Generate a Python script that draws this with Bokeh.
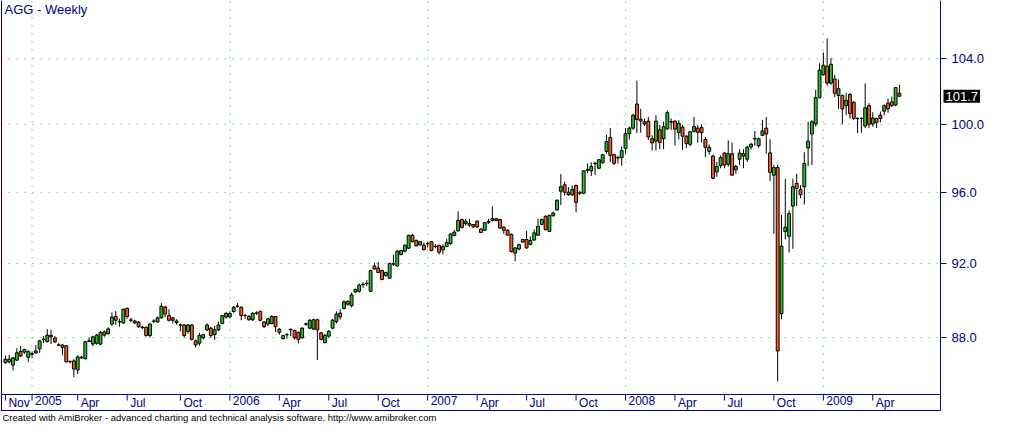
import numpy as np
import pandas as pd
from bokeh.plotting import figure
from bokeh.models import Range1d, FixedTicker, PrintfTickFormatter, LinearAxis, Label, ColumnDataSource
from bokeh.core.properties import value
from bokeh.embed import file_html
from bokeh.resources import INLINE

# ---------------- data (weekly AGG bars) ----------------
first_week = "2004-11-19"

opens = [86.70, 86.87, 86.57, 86.82, 87.27, 87.24, 86.97, 87.13, 87.20, 87.41,
         87.90, 87.79, 88.12, 87.98, 87.62, 87.61, 87.57, 86.73, 86.78, 86.31,
         86.94, 86.90, 87.80, 87.66, 87.70, 87.66, 88.30, 88.21, 88.72, 89.12,
         88.83, 88.78, 89.56, 88.92, 88.78, 88.82, 88.55, 88.55, 88.11, 88.88,
         88.83, 89.05, 89.62, 89.17, 89.05, 88.88, 88.66, 88.67, 88.33, 88.67,
         87.83, 87.71, 87.99, 88.41, 88.50, 88.16, 88.41, 88.75, 89.09, 89.10,
         89.39, 89.66, 89.62, 89.17, 89.12, 88.95, 89.30, 89.39, 88.83, 88.72,
         88.75, 89.12, 88.45, 87.95, 88.16, 88.41, 88.38, 88.28, 87.99, 88.71,
         88.50, 88.45, 88.95, 88.25, 87.74, 88.08, 88.50, 88.85, 89.30, 89.55,
         89.93, 89.70, 90.44, 90.48, 90.84, 90.90, 90.48, 91.86, 91.74, 91.61,
         91.33, 91.19, 91.96, 91.86, 92.50, 92.68, 92.84, 93.56, 93.28, 93.03,
         93.01, 93.09, 93.21, 92.95, 93.00, 92.75, 92.94, 93.10, 93.56, 93.81,
         94.45, 94.22, 94.22, 94.17, 94.35, 93.92, 93.85, 94.27, 94.40, 94.50,
         94.45, 94.02, 93.85, 93.62, 92.57, 92.80, 93.19, 93.33, 93.06, 93.30,
         93.57, 94.18, 94.64, 93.78, 94.67, 95.00, 96.07, 96.44, 96.01, 95.87,
         96.40, 95.98, 95.95, 97.28, 97.25, 97.66, 97.40, 97.72, 98.39, 99.21,
         98.19, 98.00, 98.02, 98.57, 99.44, 99.77, 101.22, 100.30, 100.15, 100.19,
         99.14, 99.00, 99.67, 99.14, 99.73, 100.13, 100.19, 99.52, 99.83, 99.29,
         98.81, 99.58, 99.77, 99.80, 99.10, 98.39, 98.11, 97.18, 97.55, 98.29,
         97.63, 98.25, 97.31, 97.93, 98.25, 97.93, 98.65, 99.13, 98.72, 99.34,
         99.77, 98.30, 97.00, 97.44, 89.28, 93.77, 93.51, 95.22, 96.52, 96.16,
         96.33, 98.59, 99.42, 100.02, 101.60, 103.02, 103.54, 102.50, 102.75, 101.74,
         101.74, 101.12, 101.80, 101.33, 100.36, 100.34, 99.90, 101.12, 100.02, 100.35,
         100.54, 100.79, 101.27, 101.35, 101.16, 101.88]

highs = [87.07, 87.10, 86.99, 87.44, 87.57, 87.41, 87.34, 87.27, 87.61, 87.88,
         88.08, 88.45, 88.41, 88.08, 87.71, 87.66, 87.61, 86.82, 86.87, 87.07,
         87.05, 87.82, 88.00, 88.10, 88.20, 88.35, 88.38, 88.55, 89.34, 89.42,
         89.00, 89.55, 89.60, 89.06, 88.95, 88.88, 88.62, 88.58, 88.75, 88.98,
         89.12, 89.84, 89.70, 89.51, 89.10, 88.98, 88.75, 88.72, 88.72, 88.72,
         87.90, 88.25, 88.20, 88.75, 88.58, 88.62, 88.85, 89.20, 89.35, 89.40,
         89.68, 89.84, 89.66, 89.25, 89.20, 89.35, 89.40, 89.45, 88.88, 89.05,
         89.20, 89.15, 88.50, 88.15, 88.25, 88.50, 88.42, 88.32, 88.55, 88.80,
         88.98, 89.00, 89.00, 88.30, 88.20, 88.40, 89.00, 89.40, 89.50, 89.98,
         90.00, 90.41, 90.62, 90.90, 90.97, 91.08, 91.65, 92.04, 92.08, 91.65,
         91.55, 92.04, 92.48, 92.72, 92.76, 93.05, 93.60, 93.64, 93.32, 93.25,
         93.16, 93.21, 93.25, 93.07, 93.05, 93.07, 93.37, 93.68, 93.87, 94.93,
         94.50, 94.49, 94.49, 94.20, 94.42, 93.95, 94.30, 94.49, 95.20, 94.55,
         94.50, 94.06, 93.90, 93.66, 92.90, 93.10, 93.37, 93.82, 93.50, 93.90,
         94.50, 94.50, 94.68, 94.72, 94.90, 95.60, 97.06, 96.62, 96.30, 96.40,
         96.45, 96.10, 97.28, 97.68, 97.75, 97.78, 97.95, 98.25, 99.38, 99.77,
         98.25, 98.15, 98.68, 99.77, 99.86, 100.64, 102.64, 100.93, 100.35, 100.44,
         99.35, 100.54, 99.96, 100.15, 100.83, 100.35, 100.25, 100.25, 99.95, 99.35,
         99.60, 100.44, 99.95, 100.00, 99.25, 98.80, 98.20, 97.77, 98.15, 98.35,
         99.04, 98.91, 97.60, 98.52, 98.52, 98.72, 98.90, 99.60, 99.20, 100.25,
         100.44, 99.10, 97.60, 97.60, 94.71, 96.79, 94.97, 96.79, 97.08, 96.42,
         98.34, 100.15, 100.25, 102.09, 103.72, 104.40, 105.28, 104.06, 103.00, 102.72,
         101.80, 101.90, 101.90, 101.40, 100.40, 100.40, 102.48, 101.27, 100.73, 100.40,
         100.77, 101.20, 101.55, 101.67, 102.22, 102.40]

lows = [86.63, 86.65, 86.28, 86.77, 86.99, 87.15, 86.73, 86.94, 87.15, 87.20,
        87.71, 87.74, 87.66, 87.72, 87.57, 87.07, 86.70, 86.65, 85.94, 86.10,
        86.88, 86.85, 87.76, 87.55, 87.62, 87.60, 88.05, 88.15, 88.62, 88.67,
        88.58, 88.72, 89.00, 88.82, 88.72, 88.52, 88.45, 88.05, 88.00, 88.78,
        88.78, 89.00, 89.10, 88.85, 88.75, 88.68, 88.33, 88.00, 88.20, 87.85,
        87.49, 87.57, 87.90, 88.35, 87.99, 87.88, 88.35, 88.70, 89.00, 89.02,
        89.32, 89.60, 88.92, 89.00, 88.90, 88.88, 89.20, 88.85, 88.50, 88.60,
        88.70, 88.30, 88.15, 87.90, 87.95, 88.08, 87.90, 87.70, 87.95, 88.62,
        88.45, 88.40, 86.82, 87.85, 87.70, 88.00, 88.45, 88.75, 88.95, 89.50,
        89.70, 89.61, 90.40, 90.41, 90.67, 90.76, 90.44, 91.65, 91.47, 91.08,
        91.28, 91.15, 91.86, 91.82, 92.45, 92.62, 92.80, 93.16, 92.94, 93.00,
        92.71, 92.89, 92.68, 92.84, 92.50, 92.50, 92.89, 93.05, 93.51, 93.78,
        93.95, 94.10, 94.04, 93.98, 93.98, 93.68, 93.80, 94.22, 94.35, 94.35,
        93.93, 93.65, 93.54, 92.60, 92.12, 92.72, 93.14, 92.82, 93.00, 93.25,
        93.54, 94.12, 93.84, 93.75, 94.60, 94.95, 95.27, 95.83, 95.80, 95.80,
        94.86, 95.85, 95.90, 97.12, 96.95, 97.00, 97.35, 97.68, 98.25, 97.77,
        97.59, 97.68, 97.55, 98.25, 99.10, 99.67, 99.48, 99.50, 99.90, 99.06,
        98.44, 98.44, 98.52, 98.52, 99.65, 99.67, 98.73, 99.10, 98.48, 98.59,
        98.70, 99.50, 98.91, 98.91, 98.06, 98.20, 96.78, 96.90, 97.40, 97.40,
        97.50, 96.98, 97.08, 97.59, 97.40, 97.77, 98.50, 98.72, 98.60, 99.30,
        98.25, 96.65, 93.64, 85.72, 88.97, 93.33, 92.60, 92.81, 95.22, 95.67,
        95.31, 97.53, 97.59, 99.86, 101.60, 102.95, 102.34, 102.40, 101.64, 100.93,
        100.00, 100.54, 100.35, 100.25, 99.48, 99.50, 99.77, 99.77, 99.86, 99.77,
        100.12, 100.54, 100.70, 101.05, 101.10, 101.66]

closes = [86.87, 86.73, 86.94, 87.20, 87.04, 87.37, 87.27, 87.16, 87.30, 87.83,
          87.92, 88.13, 88.05, 87.78, 87.60, 87.49, 86.73, 86.75, 86.36, 86.99,
          86.98, 87.78, 87.83, 88.04, 88.13, 88.28, 88.13, 88.46, 89.09, 88.92,
          88.85, 89.51, 89.12, 88.94, 88.88, 88.58, 88.53, 88.11, 88.72, 88.86,
          89.05, 89.67, 89.25, 88.92, 88.92, 88.80, 88.68, 88.11, 88.67, 87.91,
          87.62, 88.11, 88.16, 88.67, 88.11, 88.41, 88.67, 89.17, 89.29, 89.28,
          89.62, 89.68, 89.17, 89.18, 88.95, 89.29, 89.31, 88.92, 88.58, 89.00,
          89.12, 88.58, 88.28, 88.11, 88.15, 88.43, 87.99, 87.91, 88.50, 88.73,
          88.92, 88.95, 88.41, 87.91, 88.11, 88.33, 88.92, 89.25, 89.10, 89.91,
          89.78, 90.28, 90.58, 90.81, 90.86, 90.91, 91.61, 91.70, 91.50, 91.12,
          91.50, 92.00, 91.98, 92.68, 92.71, 93.01, 93.56, 93.21, 92.98, 93.21,
          92.77, 93.11, 92.71, 92.94, 92.62, 92.93, 93.16, 93.64, 93.74, 94.40,
          94.01, 94.35, 94.13, 94.04, 94.04, 93.72, 94.27, 94.35, 94.50, 94.40,
          93.97, 93.85, 93.58, 92.66, 92.86, 93.04, 93.33, 92.86, 93.28, 93.70,
          94.07, 94.45, 93.88, 94.69, 94.82, 95.55, 96.33, 96.01, 95.87, 96.18,
          95.43, 95.95, 97.25, 97.31, 97.50, 97.69, 97.90, 98.19, 98.97, 98.16,
          97.69, 98.03, 98.43, 99.44, 99.77, 100.54, 100.29, 100.20, 100.02, 99.25,
          98.89, 100.19, 98.92, 99.86, 100.70, 100.16, 99.71, 100.06, 99.29, 98.86,
          99.55, 99.86, 99.52, 99.50, 98.63, 98.63, 96.82, 97.50, 98.02, 97.59,
          98.25, 97.00, 97.50, 98.29, 98.11, 98.63, 98.81, 99.15, 99.14, 99.60,
          99.42, 97.16, 97.44, 87.30, 92.96, 94.02, 94.79, 96.33, 96.23, 95.87,
          97.68, 99.00, 100.15, 101.60, 103.30, 103.60, 102.50, 103.66, 101.88, 102.15,
          100.93, 101.45, 100.64, 100.35, 100.34, 100.36, 100.99, 100.00, 100.38, 100.12,
          100.35, 101.12, 100.93, 101.12, 102.22, 101.70]

price_ticks = [88, 92, 96, 100, 104]
quarter_months = [1, 4, 7, 10]

title_text = "AGG - Weekly"
footer_text = ("Created with AmiBroker - advanced charting and technical analysis software. "
               "http://www.amibroker.com")

# ---------------- styling / layout constants ----------------
NAVY = "#000080"
GRID = "#22cc22"
UP = "#26c026"
DOWN = "#ff5a1f"
FONT = "Liberation Sans"

W, H = 1000, 423                 # whole canvas (= plot frame)
PANE_W, PANE_H = 940, 410        # chart pane inside it
STRIP_PX = 16                    # date strip at the bottom of the pane
TICK_PX = 6
X_LO, X_PANE = -1.29, 245.8      # bar range covered by the pane
Y_PANE_LO, Y_HI = 84.24, 107.7   # price range covered by the pane (log)

bar_px = PANE_W / (X_PANE - X_LO)
X_HI = X_LO + W / bar_px
px_per_ln = PANE_H / np.log(Y_HI / Y_PANE_LO)
Y_LO = float(Y_PANE_LO * np.exp(-(H - PANE_H) / px_per_ln))
axis_price = float(Y_PANE_LO * np.exp(STRIP_PX / px_per_ln))
tick_end = float(axis_price * np.exp(-TICK_PX / px_per_ln))

n = len(closes)
idx = np.arange(n)
dates = pd.date_range(first_week, periods=n, freq="W-FRI")

# month / year ticks (first bar, then first bar of each quarter month)
tick_pos = [0]
tick_lab = [dates[0].strftime("%b")]
for i in range(1, n):
    if dates[i].month != dates[i - 1].month and dates[i].month in quarter_months:
        tick_pos.append(i)
        tick_lab.append(str(dates[i].year) if dates[i].month == 1 else dates[i].strftime("%b"))
year_pos = [p for p, l in zip(tick_pos, tick_lab) if l.isdigit()]

o = np.array(opens); c = np.array(closes)
src = ColumnDataSource(dict(
    x=idx, high=highs, low=lows,
    top=np.maximum(o, c), bottom=np.minimum(o, c),
    color=[UP if cc >= oo else DOWN for oo, cc in zip(opens, closes)],
))

p = figure(width=W, height=H,
           x_range=Range1d(X_LO, X_HI), y_range=Range1d(Y_LO, Y_HI),
           y_axis_type="log", y_axis_location="right",
           output_backend="svg", toolbar_location=None,
           min_border=0, min_border_left=0, min_border_right=0,
           min_border_top=0, min_border_bottom=0,
           background_fill_color="white", border_fill_color="white",
           outline_line_color=None)
p.xgrid.visible = False
p.ygrid.visible = False

# ---- price axis (right edge of the pane) ----
yax = p.yaxis[0]
yax.fixed_location = X_PANE
yax.bounds = (Y_PANE_LO, Y_HI)
yax.ticker = FixedTicker(ticks=price_ticks)
yax.formatter = PrintfTickFormatter(format="%.1f")
yax.axis_line_color = NAVY
yax.major_tick_line_color = NAVY
yax.major_tick_out = 6
yax.major_tick_in = 0
yax.minor_tick_line_color = None
yax.major_label_text_color = NAVY
yax.major_label_text_font = FONT
yax.major_label_text_font_size = "13px"
yax.major_label_standoff = 5

# ---- date axis line, pane bottom line, left pane border ----
xax = p.xaxis[0]
xax.fixed_location = axis_price
xax.bounds = (X_LO, X_PANE)
xax.ticker = FixedTicker(ticks=[])
xax.axis_line_color = NAVY
xax.major_tick_line_color = None
xax.minor_tick_line_color = None

bottom_line = LinearAxis(fixed_location=Y_PANE_LO, bounds=(X_LO, X_PANE),
                         ticker=FixedTicker(ticks=[]), axis_line_color=NAVY,
                         major_tick_line_color=None, minor_tick_line_color=None)
p.add_layout(bottom_line, "below")
left_line = LinearAxis(fixed_location=X_LO + 0.5 / bar_px, bounds=(Y_PANE_LO, Y_HI),
                       ticker=FixedTicker(ticks=[]), axis_line_color=NAVY,
                       major_tick_line_color=None, minor_tick_line_color=None)
p.add_layout(left_line, "left")

# ---- dotted grid (years vertical, price ticks horizontal) ----
p.segment(x0=year_pos, x1=year_pos, y0=[axis_price] * len(year_pos), y1=[Y_HI] * len(year_pos),
          line_color=GRID, line_dash="1 7", line_width=1)
p.segment(x0=[X_LO] * len(price_ticks), x1=[X_PANE] * len(price_ticks),
          y0=price_ticks, y1=price_ticks, line_color=GRID, line_dash="1 7", line_width=1)

# ---- date ticks and labels ----
p.segment(x0=tick_pos, x1=tick_pos, y0=[axis_price] * len(tick_pos), y1=[tick_end] * len(tick_pos),
          line_color=NAVY, line_width=1)
p.text(x=tick_pos, y=[axis_price] * len(tick_pos), text=tick_lab, x_offset=3, y_offset=1,
       text_align="left", text_baseline="top", text_color=NAVY,
       text_font=value(FONT), text_font_size=value("12px"))

# ---- candles ----
p.segment(x0="x", y0="low", x1="x", y1="high", source=src, line_color="black", line_width=1)
p.vbar(x="x", width=0.76, top="top", bottom="bottom", source=src,
       fill_color="color", line_color="black", line_width=1)

# ---- texts ----
p.add_layout(Label(x=X_LO, y=Y_HI, x_offset=4, y_offset=-1, text=title_text,
                   text_baseline="top", text_align="left", text_color=NAVY,
                   text_font=FONT, text_font_size="13px"))
p.add_layout(Label(x=X_LO, y=Y_PANE_LO, x_offset=2, y_offset=-1, text=footer_text,
                   text_baseline="top", text_align="left", text_color="black",
                   text_font=FONT, text_font_size="9.5px"))
flag_kw = dict(x=X_PANE, y=closes[-1], x_offset=3, text=f"{closes[-1]:.1f}",
               text_baseline="middle", text_align="left", text_color="white",
               background_fill_color="black", text_font=FONT, text_font_size="13px")
try:
    flag = Label(padding=2, **flag_kw)
except Exception:
    flag = Label(**flag_kw)
p.add_layout(flag)

open("out.html", "w").write(file_html(p, INLINE))
